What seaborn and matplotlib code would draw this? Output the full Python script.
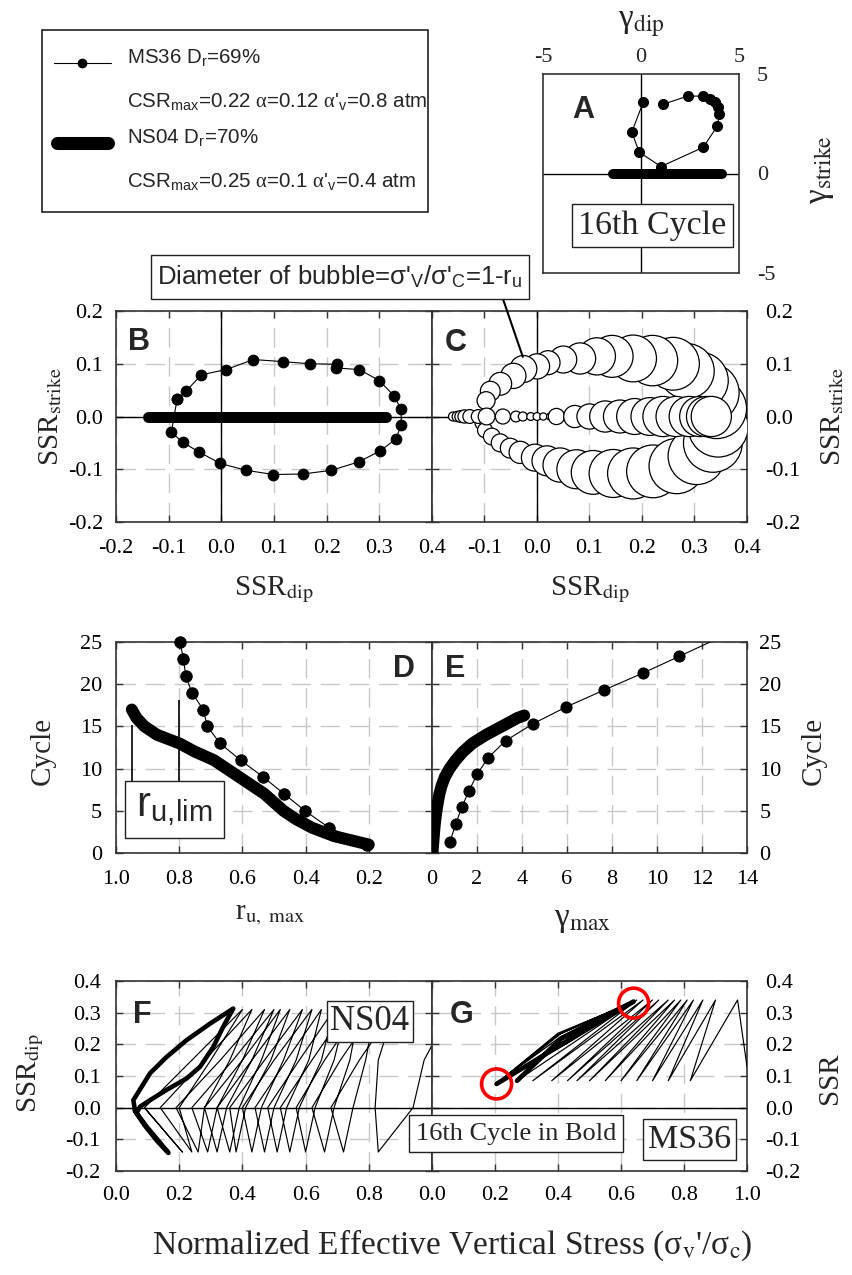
import matplotlib
matplotlib.use("Agg")
import matplotlib.pyplot as plt
import numpy as np
import seaborn as sns
from matplotlib.patches import Rectangle

# ======================= DATA =======================
# Panel A : shear strain path, 16th cycle (%)
A_ms36_gdip = [0.12, -0.47, -0.09, 1.02, 3.18, 3.89, 4.00, 3.95, 3.78, 3.52, 3.15, 2.38, 1.10]
A_ms36_gstrike = [3.60, 2.08, 1.07, 0.35, 1.32, 2.38, 3.00, 3.34, 3.59, 3.76, 3.89, 3.89, 3.47]
A_ns04_gdip = [-1.42, 4.13]
A_ns04_gstrike = [0.0, 0.0]

# Panel B : stress-ratio path, 16th cycle
B_ms36_dip = [-0.084, -0.067, -0.038, 0.009, 0.061, 0.117, 0.168, 0.220, 0.218, 0.262, 0.300, 0.328, 0.341,
              0.342, 0.331, 0.302, 0.261, 0.209, 0.155, 0.099, 0.047, -0.002, -0.043, -0.073, -0.095, -0.084]
B_ms36_strike = [0.033, 0.048, 0.079, 0.089, 0.108, 0.104, 0.100, 0.099, 0.092, 0.089, 0.068, 0.039, 0.014,
                 -0.016, -0.043, -0.065, -0.086, -0.102, -0.109, -0.110, -0.102, -0.089, -0.067, -0.049, -0.030, 0.033]
B_ns04_dip = [-0.140, 0.313]
B_ns04_strike = [0.0, 0.0]

# Panel C : bubbles, diameter = 1 - r_u
C_ms36_dip = [-0.105, -0.099, -0.086, -0.070, -0.051, -0.032, -0.004, 0.019, 0.044, 0.075, 0.107, 0.145,
              0.183, 0.221, 0.266, 0.304, 0.335, 0.345,
              0.342, 0.329, 0.310, 0.285, 0.259, 0.220, 0.183, 0.143, 0.114, 0.082, 0.050, 0.021,
              0.000, -0.026, -0.045, -0.070, -0.089, -0.097]
C_ms36_strike = [-0.012, -0.026, -0.038, -0.050, -0.060, -0.068, -0.078, -0.084, -0.092, -0.100, -0.106, -0.108,
                 -0.108, -0.104, -0.094, -0.075, -0.050, -0.020,
                 0.015, 0.045, 0.068, 0.086, 0.100, 0.106, 0.110, 0.114, 0.114, 0.110, 0.108, 0.102,
                 0.095, 0.090, 0.077, 0.062, 0.048, 0.030]
C_ms36_diam = [0.23, 0.25, 0.28, 0.30, 0.33, 0.37, 0.45, 0.50, 0.57, 0.65, 0.73, 0.80,
               0.85, 0.88, 0.92, 0.95, 0.98, 1.00,
               1.00, 0.98, 0.95, 0.92, 0.88, 0.84, 0.78, 0.70, 0.62, 0.52, 0.45, 0.40,
               0.42, 0.45, 0.42, 0.38, 0.33, 0.30]
C_ns04_dip = [-0.160, -0.152, -0.145, -0.138, -0.128, -0.112, -0.096, -0.065, -0.040, -0.027, -0.012, 0.000,
              0.012, 0.025, 0.037, 0.072, 0.100, 0.130, 0.158, 0.186, 0.215, 0.240, 0.265, 0.290, 0.310,
              0.323, 0.332]
C_ns04_strike = [0.0] * 27
C_ns04_diam = [0.15, 0.17, 0.20, 0.22, 0.23, 0.23, 0.28, 0.25, 0.18, 0.15, 0.13, 0.13,
               0.12, 0.12, 0.27, 0.37, 0.42, 0.52, 0.55, 0.60, 0.63, 0.67, 0.67, 0.67, 0.67,
               0.67, 0.67]

# Panel D : max excess pore pressure ratio per cycle
D_ms36_cycle = [1, 3, 5, 7, 9, 11, 13, 15, 17, 19, 21, 23, 25]
D_ms36_ru = [0.207, 0.326, 0.402, 0.468, 0.534, 0.606, 0.671, 0.711, 0.724, 0.760, 0.779, 0.787, 0.797]
D_ns04_cycle = [1, 2, 3, 4, 5, 6, 7, 8, 9, 10, 11, 12, 13, 14, 15, 16, 17]
D_ns04_ru = [0.20, 0.31, 0.38, 0.43, 0.47, 0.50, 0.53, 0.57, 0.61, 0.65, 0.69, 0.75, 0.80, 0.87, 0.91, 0.935, 0.95]
D_rulim = [0.95, 0.80]
D_rulim_top = [15.2, 18.1]

# Panel E : max shear strain per cycle
E_ms36_cycle = [1.34, 3.4, 5.4, 7.35, 9.35, 11.3, 13.3, 15.3, 17.3, 19.3, 21.3, 23.3, 25.3]
E_ms36_gamma = [0.80, 1.05, 1.32, 1.64, 2.01, 2.50, 3.27, 4.48, 5.96, 7.64, 9.36, 10.99, 12.6]
E_ns04_cycle = [0, 1, 2, 3, 4, 5, 6, 7, 8, 9, 10, 11, 12, 13, 14, 15, 16, 16.3]
E_ns04_gamma = [0.02, 0.05, 0.08, 0.11, 0.15, 0.20, 0.26, 0.33, 0.43, 0.57, 0.78, 1.05, 1.38, 1.80, 2.40,
                3.10, 3.80, 4.10]

# Panel F : NS04 stress path (SSR_dip vs sigma'v/sigma_c), cycles 1-15 thin, 16 bold
F_top_x = [1.06, 0.88, 0.82, 0.77, 0.73, 0.69, 0.65, 0.62, 0.59, 0.55, 0.52, 0.50, 0.47, 0.43, 0.40]
F_dmid_x = [0.975, 0.77, 0.71, 0.66, 0.62, 0.58, 0.54, 0.50, 0.47, 0.43, 0.40, 0.37, 0.33, 0.28, 0.24]
F_dn0_x = [0.94, 0.68, 0.62, 0.57, 0.52, 0.48, 0.44, 0.40, 0.36, 0.32, 0.28, 0.24, 0.19, 0.14, 0.09]
F_bot_x = [0.83, 0.72, 0.66, 0.60, 0.55, 0.51, 0.47, 0.43, 0.38, 0.36, 0.32, 0.29, 0.26, 0.24, 0.21]
F_up0_x = [0.82, 0.75, 0.69, 0.63, 0.58, 0.54, 0.50, 0.46, 0.41, 0.39, 0.35, 0.32, 0.28, 0.20, 0.09]
F_umid_x = [0.83, 0.79, 0.74, 0.69, 0.65, 0.61, 0.57, 0.53, 0.49, 0.46, 0.43, 0.40, 0.36, 0.30]
F_top_ssr = 0.31
F_mid_ssr = 0.15
F_bot_ssr = -0.14
F16_x = [0.060, 0.055, 0.108, 0.160, 0.223, 0.297, 0.371, 0.339, 0.308, 0.266, 0.223, 0.160, 0.108, 0.076,
         0.065, 0.097, 0.139, 0.166, 0.130, 0.090, 0.060]
F16_y = [-0.010, 0.024, 0.109, 0.160, 0.213, 0.265, 0.313, 0.255, 0.192, 0.129, 0.092, 0.056, 0.024, 0.003,
         -0.017, -0.060, -0.110, -0.143, -0.105, -0.055, -0.010]

# Panel G : MS36 stress path (SSR vs sigma'v/sigma_c)
G_start_x, G_start_y = 1.0, 0.13
G_top_x = [0.97, 0.90, 0.86, 0.83, 0.81, 0.79, 0.77, 0.75, 0.72, 0.70, 0.67, 0.65]
G_bot_x = [0.82, 0.75, 0.70, 0.65, 0.60, 0.55, 0.50, 0.46, 0.43, 0.38, 0.32, 0.27]
G_top_ssr = 0.34
G_bot_ssr = 0.085
G16_x = [0.27, 0.41, 0.64, 0.42, 0.205]
G16_y = [0.085, 0.218, 0.335, 0.205, 0.075]
G_post_x = [0.205, 0.41, 0.635, 0.43, 0.21, 0.40, 0.63, 0.44, 0.215, 0.41, 0.625, 0.42, 0.21, 0.40, 0.62,
            0.43, 0.22]
G_post_y = [0.075, 0.235, 0.335, 0.205, 0.08, 0.23, 0.33, 0.21, 0.085, 0.225, 0.33, 0.20, 0.08, 0.235, 0.325,
            0.21, 0.085]
G_mark_x = [0.205, 0.64]
G_mark_y = [0.075, 0.33]

# ======================= STYLE =======================
sns.set_theme(style="white")
plt.rcParams["font.family"] = ["Liberation Serif", "DejaVu Serif"]
plt.rcParams["axes.unicode_minus"] = False
plt.rcParams["mathtext.fontset"] = "custom"
plt.rcParams["mathtext.rm"] = "Liberation Sans"
plt.rcParams["mathtext.it"] = "Liberation Serif"
plt.rcParams["mathtext.bf"] = "Liberation Sans:bold"

W, H = 853, 1275
fig = plt.figure(figsize=(W / 100, H / 100), dpi=100)
fig.patch.set_facecolor("white")

EDGE = "#333333"
GRID = "#c8c8c8"
TICK_FS = 16
LAB_FS = 21
GAM_FS = 24


def ax_at(x0, y0, x1, y1):
    return fig.add_axes([x0 / W, 1 - y1 / H, (x1 - x0) / W, (y1 - y0) / H])


def stext(x, y, s, size, **kw):
    kw.setdefault("ha", "center")
    kw.setdefault("va", "center")
    return fig.text(x / W, 1 - y / H, s, fontsize=size, family="Liberation Serif",
                    math_fontfamily="stix", **kw)


def atext(x, y, s, size, **kw):
    kw.setdefault("ha", "center")
    kw.setdefault("va", "center")
    return fig.text(x / W, 1 - y / H, s, fontsize=size, family="Liberation Sans",
                    math_fontfamily="custom", **kw)


def box(x0, y0, x1, y1):
    fig.add_artist(Rectangle((x0 / W, 1 - y1 / H), (x1 - x0) / W, (y1 - y0) / H,
                             transform=fig.transFigure, facecolor="white",
                             edgecolor="#222222", lw=1.0, zorder=5))


def style(ax, xlim, ylim, xticks, xlabels, yticks, ylabels, yside="left", xpad=12, ypad=10):
    ax.set_xlim(*xlim)
    ax.set_ylim(*ylim)
    ax.set_xticks(xticks, labels=xlabels)
    ax.set_yticks(yticks, labels=ylabels)
    ax.tick_params(direction="in", length=5, width=1, color=EDGE, labelsize=TICK_FS,
                   top=True, bottom=True, left=True, right=True, labelcolor="black")
    ax.tick_params(axis="x", pad=xpad)
    ax.tick_params(axis="y", pad=ypad, labelleft=(yside == "left"), labelright=(yside == "right"))
    ax.grid(True, color=GRID, lw=1.0, ls=(0, (14, 7)))
    ax.set_axisbelow(True)
    for s in ax.spines.values():
        s.set_color(EDGE)
        s.set_linewidth(1.2)
    ax.set_xlabel("")
    ax.set_ylabel("")
    ax.set_facecolor("white")


def path(ax, x, y, **kw):
    sns.lineplot(x=np.asarray(x, float), y=np.asarray(y, float), ax=ax, sort=False,
                 estimator=None, errorbar=None, legend=False, **kw)


def fmt(vals, skip=()):
    return ["" if v in skip else f"{v:.1f}" for v in vals]


# ======================= PANEL A =======================
axA = ax_at(543, 74, 739, 273)
axA.set_xlim(-5, 5)
axA.set_ylim(-5, 5)
axA.set_xticks([-5, 0, 5], labels=["-5", "0", "5"])
axA.set_yticks([-5, 0, 5], labels=["-5", "0", "5"])
axA.tick_params(length=0, labelsize=TICK_FS, top=True, labeltop=True, bottom=False, labelbottom=False,
                left=False, labelleft=False, right=True, labelright=True)
axA.tick_params(axis="x", pad=5)
axA.tick_params(axis="y", pad=13)
axA.grid(False)
for s in axA.spines.values():
    s.set_color(EDGE)
    s.set_linewidth(1.2)
axA.axhline(0, color="black", lw=1.0, zorder=1)
axA.axvline(0, color="black", lw=1.0, zorder=1)
path(axA, A_ns04_gdip, A_ns04_gstrike, color="black", lw=7.2, solid_capstyle="round", zorder=3)
path(axA, A_ms36_gdip, A_ms36_gstrike, color="black", lw=0.8, marker="o", markersize=7.2,
     markeredgecolor="black", markerfacecolor="black", zorder=4)
axA.set_xlabel("")
axA.set_ylabel("")

# ======================= PANEL B =======================
axB = ax_at(116, 311, 432, 522)
ssr_ticks = [-0.2, -0.1, 0.0, 0.1, 0.2, 0.3, 0.4]
st_ticks = [-0.2, -0.1, 0.0, 0.1, 0.2]
style(axB, (-0.2, 0.4), (-0.2, 0.2), ssr_ticks, fmt(ssr_ticks), st_ticks, fmt(st_ticks), "left",
      xpad=12, ypad=9)
axB.axhline(0, color="black", lw=1.0, zorder=1)
axB.axvline(0, color="black", lw=1.0, zorder=1)
path(axB, B_ns04_dip, B_ns04_strike, color="black", lw=7.9, solid_capstyle="round", zorder=3)
path(axB, B_ms36_dip, B_ms36_strike, color="black", lw=0.8, marker="o", markersize=7.7,
     markeredgecolor="black", markerfacecolor="black", zorder=4)

# ======================= PANEL C =======================
axC = ax_at(432, 311, 747, 522)
style(axC, (-0.2, 0.4), (-0.2, 0.2), ssr_ticks, fmt(ssr_ticks, skip=(-0.2,)), st_ticks, fmt(st_ticks),
      "right", xpad=12, ypad=13)
axC.axhline(0, color="black", lw=1.0, zorder=1)
axC.axvline(0, color="black", lw=1.0, zorder=1)
BUBBLE_PX = 60.0


def bubbles(ax, x, y, d, z):
    area = (np.asarray(d) * BUBBLE_PX * 0.72) ** 2
    lo, hi = float(area.min()), float(area.max())
    sns.scatterplot(x=np.asarray(x), y=np.asarray(y), size=area, sizes=(lo, hi), size_norm=(lo, hi),
                    color="white", edgecolor="black", linewidth=0.9, legend=False, ax=ax, zorder=z)


bubbles(axC, C_ms36_dip, C_ms36_strike, C_ms36_diam, 3)
bubbles(axC, C_ns04_dip, C_ns04_strike, C_ns04_diam, 4)
axC.set_xlabel("")
axC.set_ylabel("")
axC.annotate("", xy=(-0.027, 0.113), xycoords="data", xytext=(503 / W, 1 - 299 / H),
             textcoords="figure fraction", annotation_clip=False,
             arrowprops=dict(arrowstyle="-", lw=1.5, color="black", shrinkA=0, shrinkB=0))

# ======================= PANEL D =======================
axD = ax_at(116, 642, 432, 853)
cyc_ticks = [0, 5, 10, 15, 20, 25]
ru_ticks = [1.0, 0.8, 0.6, 0.4, 0.2, 0.0]
style(axD, (1.0, 0.0), (0, 25), ru_ticks, fmt(ru_ticks, skip=(0.0,)), cyc_ticks,
      [str(c) for c in cyc_ticks], "left", xpad=12, ypad=10)
path(axD, D_ns04_ru, D_ns04_cycle, color="black", lw=8.6, solid_capstyle="round",
     solid_joinstyle="round", zorder=3)
path(axD, D_ms36_ru, D_ms36_cycle, color="black", lw=0.8, marker="o", markersize=8.2,
     markeredgecolor="black", markerfacecolor="black", zorder=4, clip_on=False)
axD.vlines(D_rulim, [8.5, 8.5], D_rulim_top, color="black", lw=1.2, zorder=5)
axD.set_xlabel("")
axD.set_ylabel("")

# ======================= PANEL E =======================
axE = ax_at(432, 642, 747, 853)
g_ticks = [0, 2, 4, 6, 8, 10, 12, 14]
style(axE, (0, 14), (0, 25), g_ticks, [str(g) for g in g_ticks], cyc_ticks,
      [str(c) for c in cyc_ticks], "right", xpad=12, ypad=9)
path(axE, E_ns04_gamma, E_ns04_cycle, color="black", lw=8.6, solid_capstyle="round",
     solid_joinstyle="round", zorder=3)
path(axE, E_ms36_gamma, E_ms36_cycle, color="black", lw=0.8, marker="o", markersize=8.0,
     markeredgecolor="black", markerfacecolor="black", markevery=slice(0, len(E_ms36_gamma) - 1), zorder=4)
axE.set_xlabel("")
axE.set_ylabel("")

# ======================= PANEL F =======================
axF = ax_at(116, 981, 432, 1171)
s_ticks = [0.0, 0.2, 0.4, 0.6, 0.8, 1.0]
y6 = [-0.2, -0.1, 0.0, 0.1, 0.2, 0.3, 0.4]
style(axF, (0.0, 1.0), (-0.2, 0.4), s_ticks, fmt(s_ticks, skip=(1.0,)), y6, fmt(y6), "left",
      xpad=11, ypad=11)
axF.axhline(0, color="black", lw=1.0, zorder=1)
fx, fy = [], []
n_f = len(F_top_x)
for i in range(n_f):
    fx += [F_top_x[i], F_dmid_x[i], F_dn0_x[i], F_bot_x[i], F_up0_x[i]]
    fy += [F_top_ssr, F_mid_ssr, 0.0, F_bot_ssr, 0.0]
    if i < len(F_umid_x):
        fx.append(F_umid_x[i])
        fy.append(F_mid_ssr)
path(axF, fx, fy, color="black", lw=0.85, zorder=3)
path(axF, F16_x, F16_y, color="black", lw=3.3, solid_joinstyle="round", zorder=4)
axF.set_xlabel("")
axF.set_ylabel("")

# ======================= PANEL G =======================
axG = ax_at(432, 981, 747, 1171)
style(axG, (0.0, 1.0), (-0.2, 0.4), s_ticks, fmt(s_ticks), y6, fmt(y6), "right", xpad=11, ypad=13)
axG.axhline(0, color="black", lw=1.0, zorder=1)
gx, gy = [G_start_x], [G_start_y]
for t, b in zip(G_top_x, G_bot_x):
    gx += [t, b]
    gy += [G_top_ssr, G_bot_ssr]
path(axG, gx, gy, color="black", lw=0.85, zorder=3)
path(axG, G_post_x, G_post_y, color="black", lw=1.0, zorder=3)
path(axG, G16_x, G16_y, color="black", lw=3.4, solid_joinstyle="round", zorder=4)
sns.scatterplot(x=G_mark_x, y=G_mark_y, s=(30 * 0.72) ** 2, facecolor="none", edgecolor="#ff0000",
                linewidth=2.6, ax=axG, zorder=6, legend=False)
axG.set_xlabel("")
axG.set_ylabel("")

# ======================= LEGEND BOX =======================
axL = ax_at(42, 30, 428, 212)
axL.set_xlim(0, 386)
axL.set_ylim(182, 0)
axL.axis("off")
axL.add_patch(Rectangle((0, 0), 386, 182, facecolor="white", edgecolor="#222222", lw=1.2, clip_on=False))
axL.plot([12, 69], [33, 33], color="black", lw=0.8, zorder=3)
axL.plot([40], [33], marker="o", markersize=6, color="black", zorder=4)
axL.plot([15, 66], [113, 113], color="black", lw=9.4, solid_capstyle="round", zorder=3)
LEG_FS = 14.8
atext(127, 63, r"MS36 D$_{\mathrm{r}}$=69%", LEG_FS, ha="left", va="baseline")
atext(127, 107, r"CSR$_{\mathrm{max}}$=0.22 $\alpha$=0.12 $\alpha$'$_{\mathrm{v}}$=0.8 atm", LEG_FS,
      ha="left", va="baseline")
atext(127, 143, r"NS04 D$_{\mathrm{r}}$=70%", LEG_FS, ha="left", va="baseline")
atext(127, 187, r"CSR$_{\mathrm{max}}$=0.25 $\alpha$=0.1 $\alpha$'$_{\mathrm{v}}$=0.4 atm", LEG_FS,
      ha="left", va="baseline")

# ======================= ANNOTATIONS =======================
box(151, 255, 529, 299)
atext(340, 277, r"Diameter of bubble=σ'$_{\mathrm{V}}$/σ'$_{\mathrm{C}}$=1-r$_{\mathrm{u}}$", 18.5, zorder=6)

box(572, 204, 733, 247)
stext(652, 226, "16th Cycle", 24.5, zorder=6)

box(125, 781, 224, 838)
atext(174, 808, r"r$_{\mathrm{u,\!lim}}$", 30, zorder=6)

box(327, 1001, 413, 1042)
stext(370, 1022, "NS04", 25, zorder=6)

box(643, 1119, 736, 1160)
stext(689.5, 1140, "MS36", 24.5, zorder=6)

box(409, 1115, 623, 1152)
stext(516, 1134, "16th Cycle in Bold", 19, zorder=6)

# panel letters
for (lx, ly, L) in [(572, 118, "A"), (128, 350, "B"), (445, 351, "C"), (393, 677, "D"),
                    (445, 677, "E"), (133, 1023, "F"), (450, 1023, "G")]:
    atext(lx, ly, L, 22, weight="bold", ha="left", va="baseline", zorder=7)

# axis labels
stext(641, 24, r"γ$_{\mathrm{dip}}$", GAM_FS)
stext(821, 170, r"γ$_{\mathrm{strike}}$", GAM_FS, rotation=90)
stext(51, 416, r"SSR$_{\mathrm{strike}}$", LAB_FS, rotation=90)
stext(274, 590, r"SSR$_{\mathrm{dip}}$", LAB_FS)
stext(590, 590, r"SSR$_{\mathrm{dip}}$", LAB_FS)
stext(833, 416, r"SSR$_{\mathrm{strike}}$", LAB_FS, rotation=90)
stext(43, 751, "Cycle", LAB_FS, rotation=90)
stext(270, 915, r"r$_{\mathrm{u,\ max}}$", LAB_FS)
stext(583, 920, r"γ$_{\mathrm{max}}$", GAM_FS)
stext(814, 751, "Cycle", LAB_FS, rotation=90)
stext(31, 1073, r"SSR$_{\mathrm{dip}}$", LAB_FS, rotation=90)
stext(830, 1078, "SSR", LAB_FS, rotation=90)
stext(452, 1245, r"Normalized Effective Vertical Stress (σ$_{\mathrm{v}}$'/σ$_{\mathrm{c}}$)", 24)

fig.savefig("out.png", dpi=100, facecolor="white")
